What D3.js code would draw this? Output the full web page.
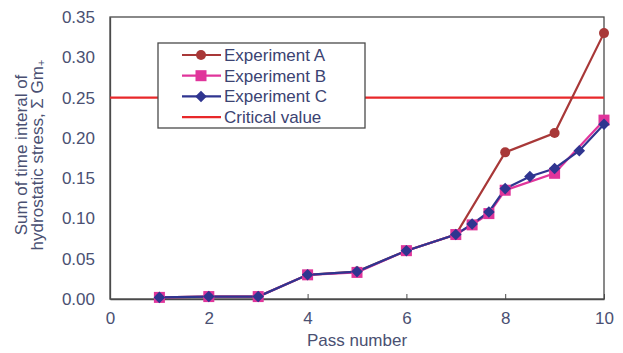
<!DOCTYPE html>
<meta charset="utf-8">
<style>
body { margin: 0; background: #fff; }
text { font-family: "Liberation Sans", Arial, sans-serif; }
.tick text { fill: #4a5072; font-size: 17px; }
.axis path, .axis line { stroke: #4a4a4a; }
</style>
<svg width="623" height="353"></svg>
<script src="https://d3js.org/d3.v7.min.js"></script>
<script>
// data
var passA = [1, 2, 3, 4, 5, 6, 7, 8, 9, 10];
var valA  = [0.002, 0.003, 0.003, 0.030, 0.034, 0.060, 0.080, 0.182, 0.206, 0.330];

var passB = [1, 2, 3, 4, 5, 6, 7, 7.33, 7.67, 8, 9, 10];
var valB  = [0.002, 0.003, 0.003, 0.030, 0.033, 0.060, 0.080, 0.092, 0.106, 0.135, 0.156, 0.222];

var passC = [1, 2, 3, 4, 5, 6, 7, 7.33, 7.67, 8, 8.5, 9, 9.5, 10];
var valC  = [0.002, 0.003, 0.003, 0.030, 0.034, 0.060, 0.080, 0.093, 0.108, 0.137, 0.152, 0.162, 0.184, 0.217];

var critical = 0.25;
var xTicks = [0, 2, 4, 6, 8, 10];
var yTicks = [0, 0.05, 0.10, 0.15, 0.20, 0.25, 0.30, 0.35];

var svg = d3.select("svg");
var x = d3.scaleLinear().domain([0, 10]).range([110, 604]);
var y = d3.scaleLinear().domain([0, 0.35]).range([299, 17]);

// frame
svg.append("rect")
    .attr("x", x(0)).attr("y", y(0.35))
    .attr("width", x(10) - x(0)).attr("height", y(0) - y(0.35))
    .attr("fill", "none").attr("stroke", "#4a4a4a").attr("stroke-width", 1.3);

svg.append("g").attr("class", "axis")
    .attr("transform", "translate(0," + y(0) + ")")
    .call(d3.axisBottom(x).tickValues(xTicks).tickSizeInner(-5).tickSizeOuter(0).tickPadding(13)
        .tickFormat(d3.format("d")));

svg.append("g").attr("class", "axis")
    .attr("transform", "translate(" + x(0) + ",0)")
    .call(d3.axisLeft(y).tickValues(yTicks).tickSize(0).tickPadding(15)
        .tickFormat(d3.format(".2f")));

svg.selectAll(".axis .domain").attr("stroke-width", 1.3);

// critical value
svg.append("line")
    .attr("x1", x(0)).attr("x2", x(10))
    .attr("y1", y(critical)).attr("y2", y(critical))
    .attr("stroke", "#e8282a").attr("stroke-width", 2.2);

var colA = "#a83838", colB = "#e0359b", colC = "#2f3590";

function pts(xs, ys) { return xs.map(function(d, i) { return [d, ys[i]]; }); }
var line = d3.line().x(function(d) { return x(d[0]); }).y(function(d) { return y(d[1]); });

var dataA = pts(passA, valA), dataB = pts(passB, valB), dataC = pts(passC, valC);

svg.append("path").attr("d", line(dataA)).attr("fill", "none").attr("stroke", colA).attr("stroke-width", 2.2);
svg.append("path").attr("d", line(dataB)).attr("fill", "none").attr("stroke", colB).attr("stroke-width", 2.2);
svg.append("path").attr("d", line(dataC)).attr("fill", "none").attr("stroke", colC).attr("stroke-width", 2.2);

svg.selectAll(".ptA").data(dataA).enter().append("circle")
    .attr("cx", function(d) { return x(d[0]); })
    .attr("cy", function(d) { return y(d[1]); })
    .attr("r", 5).attr("fill", colA);

svg.selectAll(".ptB").data(dataB).enter().append("rect")
    .attr("x", function(d) { return x(d[0]) - 5.5; })
    .attr("y", function(d) { return y(d[1]) - 5.5; })
    .attr("width", 11).attr("height", 11).attr("fill", colB);

var diamond = d3.symbol().type(d3.symbolDiamond2).size(85);
svg.selectAll(".ptC").data(dataC).enter().append("path")
    .attr("transform", function(d) { return "translate(" + x(d[0]) + "," + y(d[1]) + ")"; })
    .attr("d", diamond).attr("fill", colC);

// legend
var lg = svg.append("g");
lg.append("rect").attr("x", 158).attr("y", 43).attr("width", 207).attr("height", 85)
    .attr("fill", "#fff").attr("stroke", "#4a4a4a").attr("stroke-width", 1.3);

var legendItems = [
    {name: "Experiment A", color: colA, mark: "circle"},
    {name: "Experiment B", color: colB, mark: "square"},
    {name: "Experiment C", color: colC, mark: "diamond"},
    {name: "Critical value", color: "#e8282a", mark: null}
];
legendItems.forEach(function(it, i) {
    var cy = 55 + i * 20.7;
    lg.append("line").attr("x1", 182).attr("x2", 221).attr("y1", cy).attr("y2", cy)
        .attr("stroke", it.color).attr("stroke-width", 2.2);
    if (it.mark == "circle") lg.append("circle").attr("cx", 201).attr("cy", cy).attr("r", 5).attr("fill", it.color);
    if (it.mark == "square") lg.append("rect").attr("x", 195.5).attr("y", cy - 5.5).attr("width", 11).attr("height", 11).attr("fill", it.color);
    if (it.mark == "diamond") lg.append("path").attr("transform", "translate(201," + cy + ")").attr("d", diamond).attr("fill", it.color);
    lg.append("text").attr("x", 224).attr("y", cy + 6).attr("fill", "#3b4372")
        .style("font-size", "17px").text(it.name);
});

// axis titles
svg.append("text").attr("x", 357).attr("y", 346).attr("text-anchor", "middle")
    .attr("fill", "#4a5072").style("font-size", "17px").text("Pass number");

var yt = svg.append("text").attr("transform", "translate(27,155) rotate(-90)")
    .attr("text-anchor", "middle").attr("fill", "#4a5072").style("font-size", "17px");
yt.append("tspan").attr("x", 0).attr("dy", 0).text("Sum of time interal of");
yt.append("tspan").attr("x", 0).attr("dy", 16).text("hydrostatic stress, \u03A3 Gm");
yt.append("tspan").attr("dy", 2).style("font-size", "11px").text("+");
</script>
